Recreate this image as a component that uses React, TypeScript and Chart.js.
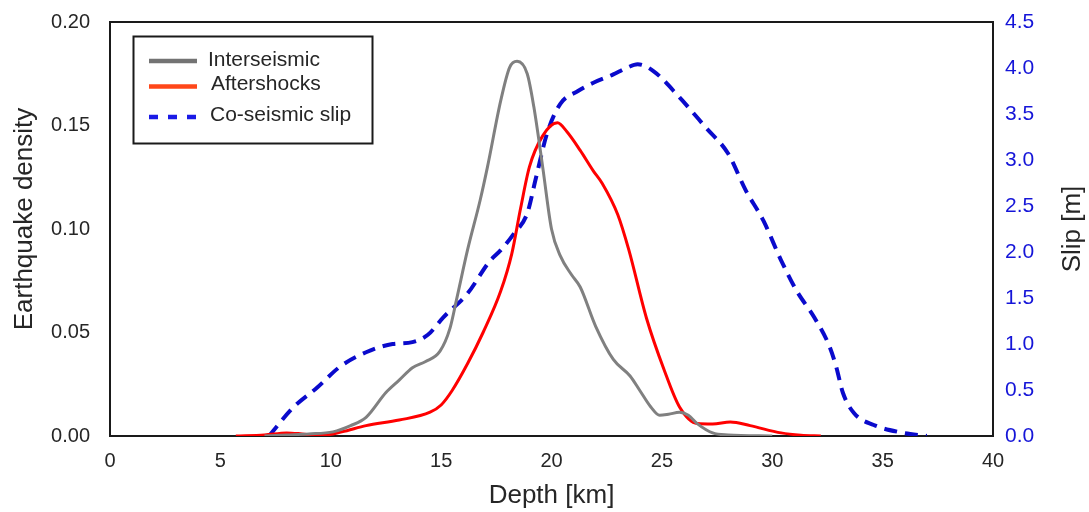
import React, { useEffect, useRef } from "react";
import { Chart, registerables } from "chart.js";

Chart.register(...registerables);

// ---- Data ----
const interDepth = [7.0, 8, 9, 10.1, 10.9, 11.6, 12.5, 13.1, 13.7, 14.3, 14.95, 15.4, 15.7, 16.2, 16.77, 17.1, 17.7, 18.1, 18.44, 18.9, 19.2, 19.6, 20.0, 20.4, 20.9, 21.3, 22.0, 22.8, 23.56, 24.0, 24.5, 24.9, 25.3, 25.8, 26.2, 26.6, 27.3, 28, 30];
const interDensity = [0, 0.0005, 0.001, 0.002, 0.005, 0.009, 0.021, 0.027, 0.033, 0.036, 0.041, 0.052, 0.066, 0.09, 0.114, 0.13, 0.162, 0.178, 0.181, 0.175, 0.159, 0.13, 0.1, 0.087, 0.078, 0.072, 0.053, 0.037, 0.029, 0.022, 0.014, 0.01, 0.0105, 0.0115, 0.01, 0.006, 0.0015, 0.0005, 0];

const afterDepth = [5.7, 7, 8, 8.7, 9.5, 10.5, 11.6, 13.1, 14.5, 15.0, 15.5, 16.2, 16.9, 17.7, 18.2, 18.6, 19.0, 19.6, 20.27, 20.7, 21.3, 21.9, 22.3, 23.0, 23.5, 24.3, 25.1, 25.8, 26.6, 27.3, 28.1, 29, 30.4, 31.3, 32.2];
const afterDensity = [0, 0.0005, 0.0015, 0.001, 0.0002, 0.002, 0.005, 0.0077, 0.0115, 0.015, 0.022, 0.035, 0.05, 0.07, 0.088, 0.11, 0.13, 0.145, 0.1513, 0.147, 0.138, 0.128, 0.122, 0.107, 0.09, 0.057, 0.032, 0.014, 0.006, 0.0058, 0.0068, 0.005, 0.0015, 0.0004, 0];

const slipDepth = [7.2, 8.3, 9.4, 10.4, 11.6, 12.8, 13.7, 14.4, 15.1, 16.2, 17.2, 17.7, 18.3, 18.9, 19.3, 19.8, 20.4, 21.2, 21.9, 22.8, 23.4, 23.9, 24.6, 25.8, 27.0, 28.0, 28.8, 29.6, 30.4, 31.1, 31.9, 32.6, 32.9, 33.2, 33.7, 34.6, 35.8, 37.0];
const slipValues = [0, 0.31, 0.53, 0.75, 0.91, 1.0, 1.02, 1.1, 1.29, 1.55, 1.9, 2.02, 2.2, 2.42, 2.81, 3.29, 3.61, 3.75, 3.84, 3.93, 4.0, 4.04, 3.97, 3.68, 3.35, 3.07, 2.67, 2.34, 1.91, 1.58, 1.29, 0.97, 0.75, 0.47, 0.25, 0.12, 0.04, 0];

const legendLabels = ["Interseismic", "Aftershocks", "Co-seismic slip"];
const xTitle = "Depth [km]";
const yLeftTitle = "Earthquake density";
const yRightTitle = "Slip [m]";

const FONT = "'Liberation Sans', Arial, sans-serif";
const TEXT = "#262626";
const GRAY = "#808080";
const RED = "#ff0000";
const BLUE = "#0a0acc";
const BLUE_TICK = "#1515d8";

const toPts = (xs: number[], ys: number[]) => xs.map((x, i) => ({ x, y: ys[i] }));

const zeroPad = (s: any) => {
  s.paddingTop = 0;
  s.paddingBottom = 0;
  s.paddingLeft = 0;
  s.paddingRight = 0;
};

const decorPlugin = {
  id: "decor",
  beforeDatasetsDraw(chart: any) {
    const { ctx, chartArea } = chart;
    ctx.save();
    ctx.strokeStyle = "#1a1a1a";
    ctx.lineWidth = 2;
    ctx.strokeRect(chartArea.left, chartArea.top, chartArea.right - chartArea.left, chartArea.bottom - chartArea.top);
    ctx.restore();
  },
  afterDraw(chart: any) {
    const { ctx, chartArea } = chart;
    ctx.save();
    // y titles
    ctx.fillStyle = TEXT;
    ctx.font = `26px ${FONT}`;
    ctx.textAlign = "center";
    ctx.textBaseline = "middle";
    ctx.save();
    ctx.translate(25, 219);
    ctx.rotate(-Math.PI / 2);
    ctx.fillText(yLeftTitle, 0, 0);
    ctx.restore();
    ctx.save();
    ctx.translate(1073, (chartArea.top + chartArea.bottom) / 2);
    ctx.rotate(-Math.PI / 2);
    ctx.fillText(yRightTitle, 0, 0);
    ctx.restore();

    // legend
    const bx = 133.5, by = 36.5, bw = 239, bh = 107;
    ctx.fillStyle = "#ffffff";
    ctx.fillRect(bx, by, bw, bh);
    ctx.strokeStyle = "#1a1a1a";
    ctx.lineWidth = 2;
    ctx.strokeRect(bx, by, bw, bh);
    const rows = [
      { label: legendLabels[0], color: "#737373", dash: [] as number[], ly: 61, ty: 60, tx: 208 },
      { label: legendLabels[1], color: "#ff4719", dash: [] as number[], ly: 86.5, ty: 84, tx: 211 },
      { label: legendLabels[2], color: "#1a1ae6", dash: [9, 10], ly: 117, ty: 115, tx: 210 },
    ];
    rows.forEach((r) => {
      ctx.beginPath();
      ctx.strokeStyle = r.color;
      ctx.lineWidth = 4.5;
      ctx.setLineDash(r.dash);
      ctx.lineDashOffset = 0;
      ctx.moveTo(149, r.ly);
      ctx.lineTo(197, r.ly);
      ctx.stroke();
      ctx.setLineDash([]);
      ctx.fillStyle = TEXT;
      ctx.font = `21px ${FONT}`;
      ctx.textAlign = "left";
      ctx.textBaseline = "middle";
      ctx.fillText(r.label, r.tx, r.ty);
    });
    ctx.restore();
  },
};

export default function App() {
  const ref = useRef<HTMLCanvasElement | null>(null);
  useEffect(() => {
    if (!ref.current) return;
    const chart = new Chart(ref.current, {
      type: "line",
      data: {
        datasets: [
          {
            label: legendLabels[0],
            data: toPts(interDepth, interDensity),
            borderColor: GRAY,
            borderWidth: 3,
            pointRadius: 0,
            cubicInterpolationMode: "monotone",
            yAxisID: "y",
            fill: false,
          },
          {
            label: legendLabels[1],
            data: toPts(afterDepth, afterDensity),
            borderColor: RED,
            borderWidth: 3,
            pointRadius: 0,
            cubicInterpolationMode: "monotone",
            yAxisID: "y",
            fill: false,
          },
          {
            label: legendLabels[2],
            data: toPts(slipDepth, slipValues),
            borderColor: BLUE,
            borderWidth: 4,
            borderDash: [13, 8],
            pointRadius: 0,
            cubicInterpolationMode: "monotone",
            yAxisID: "y1",
            fill: false,
          },
        ],
      },
      options: {
        responsive: false,
        animation: false,
        layout: { padding: { top: 22, left: 0, right: 0, bottom: 0 } },
        plugins: { legend: { display: false }, tooltip: { enabled: false } },
        scales: {
          x: {
            type: "linear",
            min: 0,
            max: 40,
            grid: { display: false, drawTicks: false },
            border: { display: false },
            ticks: { stepSize: 5, padding: 13, color: TEXT, font: { family: FONT, size: 20 } },
            title: { display: true, text: xTitle, color: TEXT, font: { family: FONT, size: 26 }, padding: { top: 0, bottom: 1 } },
            afterFit: (s: any) => { s.height = 76; zeroPad(s); },
          },
          y: {
            position: "left",
            min: 0,
            max: 0.2,
            grid: { display: false, drawTicks: false },
            border: { display: false },
            ticks: { stepSize: 0.05, padding: 20, color: TEXT, font: { family: FONT, size: 20 }, callback: (v: any) => Number(v).toFixed(2) },
            afterFit: (s: any) => { s.width = 110; zeroPad(s); },
          },
          y1: {
            position: "right",
            min: 0,
            max: 4.5,
            grid: { display: false, drawTicks: false },
            border: { display: false },
            ticks: { stepSize: 0.5, padding: 12, color: BLUE_TICK, font: { family: FONT, size: 21 }, callback: (v: any) => Number(v).toFixed(1) },
            afterFit: (s: any) => { s.width = 96; zeroPad(s); },
          },
        },
      },
      plugins: [decorPlugin],
    });
    return () => chart.destroy();
  }, []);
  return (
    <div style={{ position: "absolute", left: 0, top: 0, width: 1089, height: 512, background: "#fff" }}>
      <canvas ref={ref} width={1089} height={512} />
    </div>
  );
}
